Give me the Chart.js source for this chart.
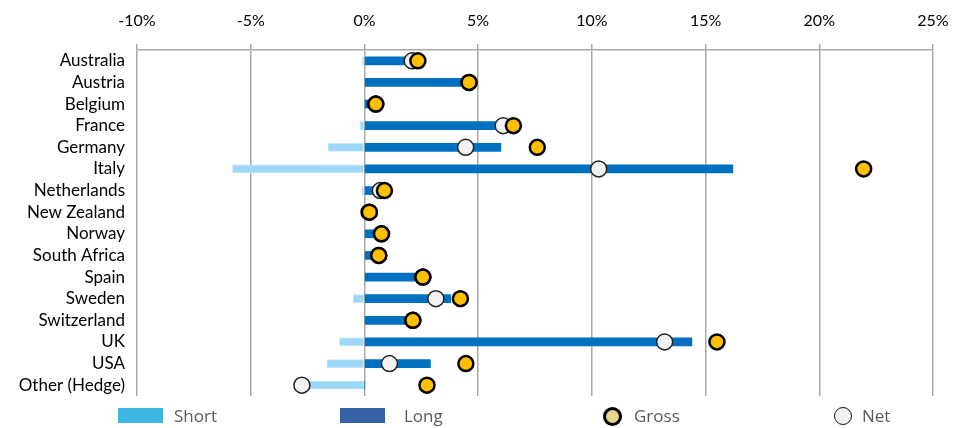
<!DOCTYPE html>
<html>
<head>
<meta charset="utf-8">
<script src="https://cdn.jsdelivr.net/npm/chart.js@4.4.1/dist/chart.umd.min.js"></script>
<style>
  body { margin: 0; background: #fff; }
  #wrap { position: relative; width: 968px; height: 428px; }
  .lg { position: absolute; font-family: "Open Sans", sans-serif; font-size: 17px; color: #595959; line-height: 20px; }
  .box { position: absolute; width: 45px; height: 15px; }
  .dot { position: absolute; border-radius: 50%; box-sizing: border-box; }
</style>
</head>
<body>
<div id="wrap">
  <canvas id="chart" width="968" height="428"></canvas>
  <div class="box" style="left:118px;top:408px;background:#3CB7E4"></div>
  <div class="lg" style="left:174px;top:406px">Short</div>
  <div class="box" style="left:340px;top:408px;background:#3462A4"></div>
  <div class="lg" style="left:404px;top:406px">Long</div>
  <div class="dot" style="left:603px;top:407px;width:19px;height:19px;background:#E6D58A;border:3.5px solid #000"></div>
  <div class="lg" style="left:634px;top:406px">Gross</div>
  <div class="dot" style="left:834px;top:407px;width:18px;height:18px;background:#F2F2F2;border:1.5px solid #111"></div>
  <div class="lg" style="left:862px;top:406px">Net</div>
</div>
<script>
// countries, top to bottom
const categories = ['Australia', 'Austria', 'Belgium', 'France', 'Germany', 'Italy', 'Netherlands', 'New Zealand',
  'Norway', 'South Africa', 'Spain', 'Sweden', 'Switzerland', 'UK', 'USA', 'Other (Hedge)'];

// positions in %
const shortPos = [-0.1, 0, 0, -0.2, -1.6, -5.8, -0.1, 0, 0, 0, 0, -0.5, 0, -1.1, -1.65, -2.75];
const longPos = [2.0, 4.6, 0.5, 6.1, 6.0, 16.2, 0.8, 0.2, 0.5, 0.4, 2.4, 3.8, 2.0, 14.4, 2.9, 0];
const gross = [2.35, 4.6, 0.5, 6.55, 7.6, 21.95, 0.88, 0.22, 0.75, 0.63, 2.57, 4.22, 2.13, 15.5, 4.46, 2.75];
const net = [2.1, 4.6, 0.5, 6.1, 4.45, 10.3, 0.7, 0.2, 0.75, 0.63, 2.57, 3.14, 2.13, 13.2, 1.1, -2.75];

const xMin = -10, xMax = 25, xStep = 5;

const ctx = document.getElementById('chart').getContext('2d');
new Chart(ctx, {
  type: 'bar',
  data: {
    labels: categories,
    datasets: [
      {
        label: 'Gross',
        type: 'line',
        indexAxis: 'y',
        data: gross,
        showLine: false,
        pointRadius: 7.5,
        pointHoverRadius: 7.5,
        pointBackgroundColor: '#FFC000',
        pointBorderColor: '#000',
        pointBorderWidth: 2.5,
        order: 0,
      },
      {
        label: 'Net',
        type: 'line',
        indexAxis: 'y',
        data: net,
        showLine: false,
        pointRadius: 8,
        pointHoverRadius: 8,
        pointBackgroundColor: '#F2F2F2',
        pointBorderColor: '#222',
        pointBorderWidth: 1.5,
        order: 1,
      },
      {
        label: 'Long',
        data: longPos,
        backgroundColor: '#0070C0',
        barThickness: 8,
        grouped: false,
        order: 2,
      },
      {
        label: 'Short',
        data: shortPos,
        backgroundColor: '#9DD8F9',
        borderColor: '#C4E9FD',
        borderWidth: 1,
        borderSkipped: false,
        barThickness: 8,
        grouped: false,
        order: 3,
      },
    ],
  },
  options: {
    indexAxis: 'y',
    responsive: false,
    animation: false,
    layout: { padding: { left: 0, right: 35, top: 0, bottom: 32 } },
    plugins: {
      legend: { display: false },
      tooltip: { enabled: false },
    },
    scales: {
      x: {
        position: 'top',
        min: xMin,
        max: xMax,
        ticks: {
          stepSize: xStep,
          padding: 14,
          color: '#000',
          font: { family: 'Lato', size: 16 },
          callback: v => v + '%',
        },
        grid: { color: '#A9A9A9', lineWidth: 1.5, tickLength: 6 },
        border: { color: '#A9A9A9', width: 1.5 },
        afterFit: s => { s.height = 50; },
      },
      y: {
        ticks: {
          padding: 4,
          color: '#000',
          font: { family: 'Lato', size: 17 },
          autoSkip: false,
        },
        grid: { display: false },
        border: { display: false },
        afterFit: s => { s.width = 137; },
      },
    },
  },
});
</script>
</body>
</html>
